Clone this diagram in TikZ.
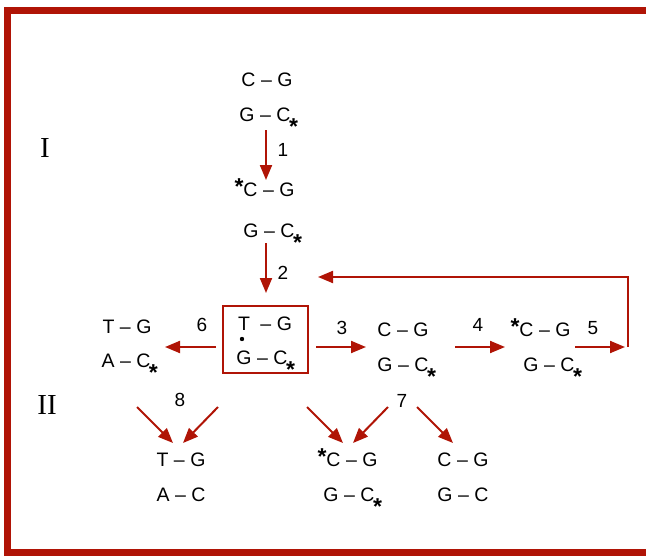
\documentclass[tikz,border=0pt]{standalone}
\usepackage{fontspec}
\setmainfont{Liberation Sans}
\newfontfamily\romanfont{Liberation Serif}
\usetikzlibrary{arrows.meta}
\definecolor{dred}{RGB}{176,20,6}
\newcommand\bp[2]{#1\hspace{5.5pt}–\hspace{5.5pt}#2}
\newcommand\sst{\rlap{\kern-1.5pt\raisebox{-13pt}{\fontsize{23}{23}\selectfont\bfseries *}}}
\newcommand\pst{\llap{\raisebox{2pt}{\fontsize{23}{23}\selectfont\bfseries *}\kern0pt}}
\tikzset{
  pair/.style={anchor=base,inner sep=0pt,font=\fontsize{19.5}{19.5}\selectfont},
  lbl/.style={anchor=center,inner sep=0pt,font=\fontsize{19}{19}\selectfont},
  roman/.style={anchor=center,inner sep=0pt,font=\romanfont\fontsize{29}{29}\selectfont},
  arr/.style={draw=dred,line width=2pt,-{Triangle[length=15pt,width=12pt]}},
  frame/.style={draw=dred,line width=7pt},
  boxed/.style={draw=dred,line width=2pt}
}
\begin{document}
\begin{tikzpicture}[x=1pt,y=-1pt]
\useasboundingbox (0,0) rectangle (646,555);
\begin{scope}
\clip (0,0) rectangle (646,555);
\draw[frame] (7,10) rectangle (649,552.5);
\end{scope}

% roman numerals
\node[roman] (r1) at (45,148) {I};
\node[roman] (r2) at (47,405) {II};

% top column
\node[pair] (a1) at (267,86) {\bp{C}{G}};
\node[pair] (a2) at (265,121) {\bp{G}{C}\sst};
\node[pair] (b1) at (269,196) {\pst\bp{C}{G}};
\node[pair] (b2) at (269,237) {\bp{G}{C}\sst};

% middle row
\node[pair] (l1) at (127,333) {\bp{T}{G}};
\node[pair] (l2) at (126,367) {\bp{A}{C}\sst};
\node[pair] (m1) at (265,330) {T\hspace{5pt}\bp{}{G}};
\node[pair] (m2) at (262,364) {\bp{G}{C}\sst};
\fill (242,339) circle (2.2pt) coordinate (dot);
\draw[boxed] (223,306) rectangle (308,373);
\coordinate (boxw) at (216,347);
\coordinate (boxe) at (316,347);
\node[pair] (r1a) at (403,336) {\bp{C}{G}};
\node[pair] (r1b) at (403,371) {\bp{G}{C}\sst};
\node[pair] (s1a) at (545,336) {\pst\bp{C}{G}};
\node[pair] (s1b) at (549,371) {\bp{G}{C}\sst};

% bottom row
\node[pair] (t1) at (181,466) {\bp{T}{G}};
\node[pair] (t2) at (181,501) {\bp{A}{C}};
\node[pair] (u1) at (352,466) {\pst\bp{C}{G}};
\node[pair] (u2) at (349,501) {\bp{G}{C}\sst};
\node[pair] (v1) at (463,466) {\bp{C}{G}};
\node[pair] (v2) at (463,501) {\bp{G}{C}};

% labels
\node[lbl] (n1) at (283,150) {1};
\node[lbl] (n2) at (283,273) {2};
\node[lbl] (n3) at (342,328) {3};
\node[lbl] (n4) at (478,325) {4};
\node[lbl] (n5) at (593,328) {5};
\node[lbl] (n6) at (202,325) {6};
\node[lbl] (n7) at (402,401) {7};
\node[lbl] (n8) at (180,400) {8};

% arrow coordinates
\coordinate (p1s) at (266,130); \coordinate (p1e) at (266,180);
\coordinate (p2s) at (266,243); \coordinate (p2e) at (266,293);
\coordinate (p3e) at (366,347);
\coordinate (p4s) at (455,347); \coordinate (p4e) at (505,347);
\coordinate (p5s) at (575,347); \coordinate (p5e) at (625,347);
\coordinate (fbs) at (628,347); \coordinate (fbc) at (628,277); \coordinate (fbe) at (318,277);
\coordinate (p6e) at (165,347);
\coordinate (q8a) at (137,407); \coordinate (q8b) at (218,407);
\coordinate (q8ea) at (173,443); \coordinate (q8eb) at (183,443);
\coordinate (q7a) at (307,407); \coordinate (q7b) at (388,407); \coordinate (q7c) at (417,407);
\coordinate (q7ea) at (343,443); \coordinate (q7eb) at (353,443); \coordinate (q7ec) at (453,443);

\draw[arr] (p1s) -- (p1e);
\draw[arr] (p2s) -- (p2e);
\draw[arr] (boxe) -- (p3e);
\draw[arr] (p4s) -- (p4e);
\draw[arr] (p5s) -- (p5e);
\draw[arr] (fbs) -- (fbc) -- (fbe);
\draw[arr] (boxw) -- (p6e);
\draw[arr] (q8a) -- (q8ea);
\draw[arr] (q8b) -- (q8eb);
\draw[arr] (q7a) -- (q7ea);
\draw[arr] (q7b) -- (q7eb);
\draw[arr] (q7c) -- (q7ec);
\end{tikzpicture}
\end{document}
